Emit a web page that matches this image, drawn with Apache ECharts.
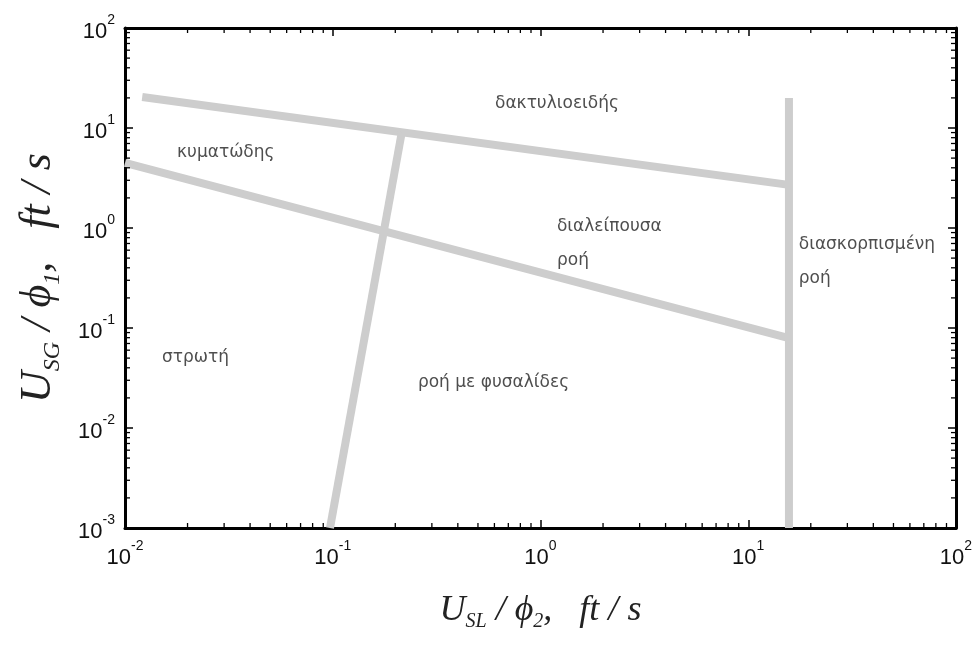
<!DOCTYPE html>
<html>
<head>
<meta charset="utf-8">
<script src="https://cdn.jsdelivr.net/npm/echarts@6/dist/echarts.min.js"></script>
<style>
  html, body { margin: 0; padding: 0; background: #fff; }
  #chart { width: 980px; height: 645px; }
</style>
</head>
<body>
<div id="chart"></div>
<script>
// Flow-regime map boundaries (log-log), superficial liquid vs gas velocity
const upperBoundaryX = [0.0121, 15.7];
const upperBoundaryY = [20.4, 2.7];
const lowerBoundaryX = [0.01, 15.7];
const lowerBoundaryY = [4.47, 0.079];
const bubbleBoundaryX = [0.097, 0.215];
const bubbleBoundaryY = [0.001, 9.1];
const dispersedBoundaryX = [15.7, 15.7];
const dispersedBoundaryY = [0.001, 20];

// Region names and their anchor points (left edge, vertical middle)
const regionNames = ['δακτυλιοειδής', 'κυματώδης', 'διαλείπουσα\nροή', 'διασκορπισμένη\nροή', 'στρωτή', 'ροή με φυσαλίδες'];
const regionX = [0.604, 0.0178, 1.2, 17.5, 0.01507, 0.257];
const regionY = [17.4, 5.62, 0.7, 0.457, 0.0501, 0.0282];

// Axis ranges (decades) and minor tick multipliers
const xRange = [0.01, 100];
const yRange = [0.001, 100];
const minorSteps = [2, 3, 4, 5, 6, 7, 8, 9];

function pairs(xs, ys) { return xs.map((x, i) => [x, ys[i]]); }

function minorValues(range) {
  const out = [];
  for (let e = Math.round(Math.log10(range[0])); e < Math.round(Math.log10(range[1])); e++) {
    minorSteps.forEach(m => out.push(m * Math.pow(10, e)));
  }
  return out;
}

function powLabel(v) {
  const e = Math.round(Math.log10(v));
  return '{b|10}{s|' + e + '}';
}

const labelRich = {
  b: { fontFamily: 'Liberation Sans', fontSize: 22, color: '#111', lineHeight: 30, verticalAlign: 'bottom' },
  s: { fontFamily: 'Liberation Sans', fontSize: 14, color: '#111', lineHeight: 30, verticalAlign: 'top' }
};

function titleRich(size) {
  return {
    u: { fontFamily: 'Liberation Serif', fontStyle: 'italic', fontSize: size, color: '#222', lineHeight: size * 1.2 },
    sub: { fontFamily: 'Liberation Serif', fontStyle: 'italic', fontSize: Math.round(size * 0.55), color: '#222', lineHeight: size * 1.2, verticalAlign: 'bottom' }
  };
}

const frameLine = { show: true, lineStyle: { color: '#000', width: 3 } };
const majorTick = { show: true, inside: true, length: 8, lineStyle: { color: '#000', width: 1.5 } };

const lineColor = '#cdcdcd';
function boundary(data) {
  return {
    type: 'line', data: data, xAxisIndex: 0, yAxisIndex: 0,
    symbol: 'none', silent: true,
    lineStyle: { color: lineColor, width: 8, cap: 'butt' },
    z: 2
  };
}

// Minor ticks drawn on all four frame sides through the axis scales
function minorTickSeries(values, dir) {
  return {
    type: 'custom', xAxisIndex: 0, yAxisIndex: 0, silent: true, z: 5,
    data: values.map(v => [v]),
    renderItem: function (params, api) {
      const v = api.value(0);
      const len = 5;
      const style = { stroke: '#000', lineWidth: 1.3 };
      if (dir === 'x') {
        const pb = api.coord([v, yRange[0]]);
        const pt = api.coord([v, yRange[1]]);
        return { type: 'group', children: [
          { type: 'line', shape: { x1: pb[0], y1: pb[1], x2: pb[0], y2: pb[1] - len }, style: style },
          { type: 'line', shape: { x1: pt[0], y1: pt[1], x2: pt[0], y2: pt[1] + len }, style: style }
        ] };
      }
      const pl = api.coord([xRange[0], v]);
      const pr = api.coord([xRange[1], v]);
      return { type: 'group', children: [
        { type: 'line', shape: { x1: pl[0], y1: pl[1], x2: pl[0] + len, y2: pl[1] }, style: style },
        { type: 'line', shape: { x1: pr[0], y1: pr[1], x2: pr[0] - len, y2: pr[1] }, style: style }
      ] };
    }
  };
}

const chart = echarts.init(document.getElementById('chart'), null, { renderer: 'canvas' });
chart.setOption({
  animation: false,
  backgroundColor: '#fff',
  grid: { left: 125, right: 24, top: 28, bottom: 117, containLabel: false },
  xAxis: [
    {
      type: 'log', logBase: 10, min: xRange[0], max: xRange[1], position: 'bottom',
      axisLine: frameLine, axisTick: majorTick, splitLine: { show: false },
      axisLabel: { margin: 11, formatter: powLabel, rich: labelRich },
      name: '{u|U}{sub|SL}{u| / }{u|ϕ}{sub|2}{u|,   ft / s}',
      nameLocation: 'middle', nameGap: 61,
      nameTextStyle: { rich: titleRich(36) }
    },
    {
      type: 'log', logBase: 10, min: xRange[0], max: xRange[1], position: 'top',
      axisLine: frameLine, axisTick: majorTick, splitLine: { show: false },
      axisLabel: { show: false }
    }
  ],
  yAxis: [
    {
      type: 'log', logBase: 10, min: yRange[0], max: yRange[1], position: 'left',
      axisLine: frameLine, axisTick: majorTick, splitLine: { show: false },
      axisLabel: { margin: 10, formatter: powLabel, rich: labelRich },
      name: '{u|U}{sub|SG}{u| / }{u|ϕ}{sub|1}{u|,   ft / s}',
      nameLocation: 'middle', nameGap: 60, nameRotate: 90,
      nameTextStyle: { rich: titleRich(44) }
    },
    {
      type: 'log', logBase: 10, min: yRange[0], max: yRange[1], position: 'right',
      axisLine: frameLine, axisTick: majorTick, splitLine: { show: false },
      axisLabel: { show: false }
    }
  ],
  series: [
    boundary(pairs(upperBoundaryX, upperBoundaryY)),
    boundary(pairs(lowerBoundaryX, lowerBoundaryY)),
    boundary(pairs(bubbleBoundaryX, bubbleBoundaryY)),
    boundary(pairs(dispersedBoundaryX, dispersedBoundaryY)),
    minorTickSeries(minorValues(xRange), 'x'),
    minorTickSeries(minorValues(yRange), 'y'),
    {
      type: 'scatter', xAxisIndex: 0, yAxisIndex: 0, silent: true,
      symbolSize: 0, z: 4,
      data: regionNames.map((n, i) => ({ name: n, value: [regionX[i], regionY[i]] })),
      label: {
        show: true, position: 'right', distance: 0,
        formatter: p => p.name,
        fontFamily: 'DejaVu Sans', fontSize: 17, color: '#222', lineHeight: 34
      }
    }
  ]
});
</script>
</body>
</html>
